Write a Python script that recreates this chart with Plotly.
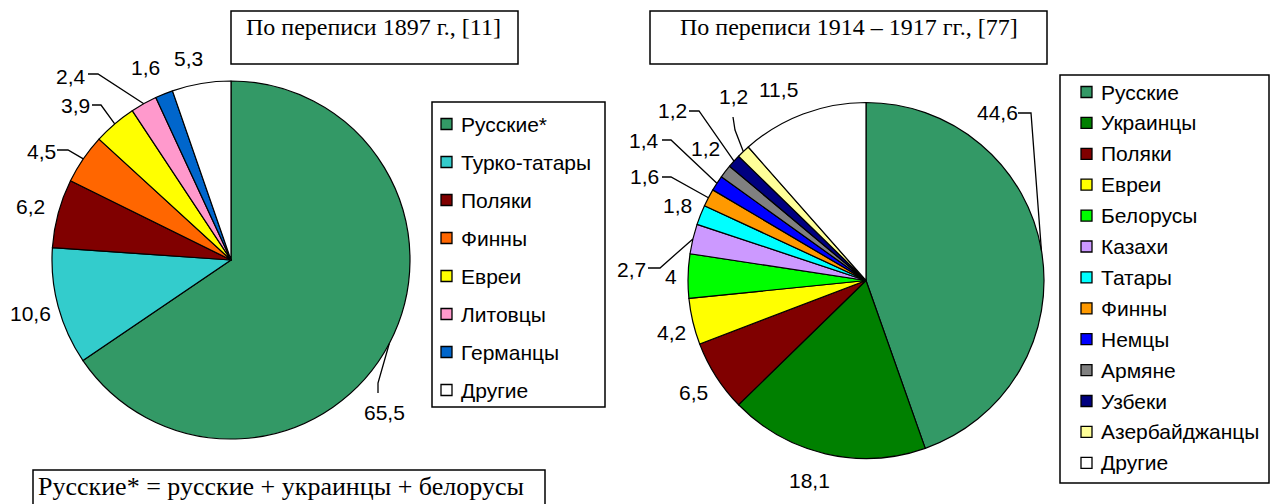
import plotly.graph_objects as go

# ---------------- data ----------------
left_labels = ["Русские*", "Турко-татары", "Поляки", "Финны", "Евреи", "Литовцы", "Германцы", "Другие"]
left_values = [65.5, 10.6, 6.2, 4.5, 3.9, 2.4, 1.6, 5.3]
left_colors = ["#339966", "#33CCCC", "#800000", "#FF6600", "#FFFF00", "#FF99CC", "#0066CC", "#FFFFFF"]

right_labels = ["Русские", "Украинцы", "Поляки", "Евреи", "Белорусы", "Казахи", "Татары", "Финны",
                "Немцы", "Армяне", "Узбеки", "Азербайджанцы", "Другие"]
right_values = [44.6, 18.1, 6.5, 4.2, 4, 2.7, 1.8, 1.6, 1.4, 1.2, 1.2, 1.2, 11.5]
right_colors = ["#339966", "#008000", "#800000", "#FFFF00", "#00FF00", "#CC99FF", "#00FFFF", "#FF9900",
                "#0000FF", "#808080", "#000080", "#FFFF99", "#FFFFFF"]

left_title = "По переписи 1897 г., [11]"
right_title = "По переписи 1914 – 1917 гг., [77]"
footnote = "Русские* = русские + украинцы + белорусы"

# ---------------- layout (pixels) ----------------
W, H = 1271, 504
SANS = "Liberation Sans, Arial, sans-serif"
SERIF = "Liberation Serif, Times New Roman, serif"

left_pie = dict(cx=231, cy=260, r=179)
right_pie = dict(cx=866, cy=280.5, r=178)

# data-label placement: text centre and leader elbow points (label side first)
left_label_pos = [(384, 412), (30, 313), (30, 206), (41, 151), (75, 105), (71, 76), (145, 67), (188, 58)]
left_leaders = {0: [(378, 393), (378, 383)], 3: [(57, 150), (68, 150)],
                4: [(92, 105), (101, 105)], 5: [(88, 74), (98, 74)]}
right_label_pos = [(997, 112), (809, 480), (693, 392), (671, 332), (671, 276), (631, 269), (677, 205),
                   (644, 176), (644, 140), (705, 148), (672, 110), (733, 96), (778, 89)]
right_leaders = {0: [(1018, 113), (1031, 113)], 5: [(648, 268), (660, 268)],
                 7: [(662, 177), (671, 177)], 8: [(662, 140), (671, 140)],
                 10: [(689, 111), (699, 111)], 11: [(733, 117), (735, 130)]}


def domain(p):
    return dict(x=[(p["cx"] - p["r"]) / W, (p["cx"] + p["r"]) / W],
                y=[(H - p["cy"] - p["r"]) / H, (H - p["cy"] + p["r"]) / H])


def arc_point(p, values, i):
    import math
    tot = sum(values)
    start = sum(values[:i])
    mid = (start + values[i] / 2) / tot * 2 * math.pi
    return (p["cx"] + p["r"] * math.sin(mid), p["cy"] - p["r"] * math.cos(mid))


def fmt(v):
    return f"{v:g}".replace(".", ",")


fig = go.Figure()
for labels, values, colors, p in [(left_labels, left_values, left_colors, left_pie),
                                  (right_labels, right_values, right_colors, right_pie)]:
    fig.add_trace(go.Pie(labels=labels, values=values, sort=False, direction="clockwise", rotation=0,
                         marker=dict(colors=colors, line=dict(color="black", width=1.2)),
                         textinfo="none", hoverinfo="label+value", domain=domain(p), showlegend=False))

# pixel-coordinate helper axes
fig.add_trace(go.Scatter(x=[0, W], y=[0, H], mode="markers", marker=dict(opacity=0), hoverinfo="skip",
                         showlegend=False))

shapes = []
annotations = []


def box(x0, y0, x1, y1, lw=1.5):
    shapes.append(dict(type="rect", xref="x", yref="y", x0=x0, y0=y0, x1=x1, y1=y1,
                       line=dict(color="black", width=lw), fillcolor="rgba(0,0,0,0)", layer="above"))


def text(x, y, s, size=21, family=SANS, xanchor="center"):
    annotations.append(dict(x=x, y=y, xref="x", yref="y", text=s, showarrow=False, xanchor=xanchor,
                            yanchor="middle", font=dict(family=family, size=size, color="black")))


# data labels and leaders
for values, pos, leaders, p in [(left_values, left_label_pos, left_leaders, left_pie),
                                (right_values, right_label_pos, right_leaders, right_pie)]:
    for i, v in enumerate(values):
        text(pos[i][0], pos[i][1], fmt(v))
        if i in leaders:
            pts = leaders[i] + [arc_point(p, values, i)]
            path = "M " + " L ".join(f"{x:.1f},{y:.1f}" for x, y in pts)
            shapes.append(dict(type="path", xref="x", yref="y", path=path,
                               line=dict(color="black", width=1.3)))

# titles
box(231, 11, 518, 64)
text(373, 27, left_title, size=24, family=SERIF)
box(650, 11, 1047, 64)
text(849, 27, right_title, size=24, family=SERIF)

# footnote
box(33, 470, 545, 520)
text(36, 486, footnote, size=26, family=SERIF, xanchor="left")

# legends
def legend(labels, colors, x0, y0, x1, y1, sq_x, txt_x, first_y, step):
    box(x0, y0, x1, y1)
    for k, (lab, col) in enumerate(zip(labels, colors)):
        yc = first_y + k * step
        shapes.append(dict(type="rect", xref="x", yref="y", x0=sq_x, x1=sq_x + 11, y0=yc - 5.5, y1=yc + 5.5,
                           fillcolor=col, line=dict(color="black", width=1.3), layer="above"))
        text(txt_x, yc, lab, size=21, xanchor="left")


legend(left_labels, left_colors, 432, 102, 605, 407, 441, 459, 124, 38)
legend(right_labels, right_colors, 1060, 75, 1269, 483, 1081, 1099, 92, 30.9)

fig.update_layout(
    width=W, height=H, margin=dict(l=0, r=0, t=0, b=0),
    paper_bgcolor="white", plot_bgcolor="rgba(0,0,0,0)",
    xaxis=dict(range=[0, W], visible=False, fixedrange=True, domain=[0, 1]),
    yaxis=dict(range=[H, 0], visible=False, fixedrange=True, domain=[0, 1]),
    shapes=shapes, annotations=annotations, showlegend=False,
)
fig.write_html("out.html", config={"displayModeBar": False},
               post_script="document.body.style.margin='0';document.body.style.overflow='hidden';")
